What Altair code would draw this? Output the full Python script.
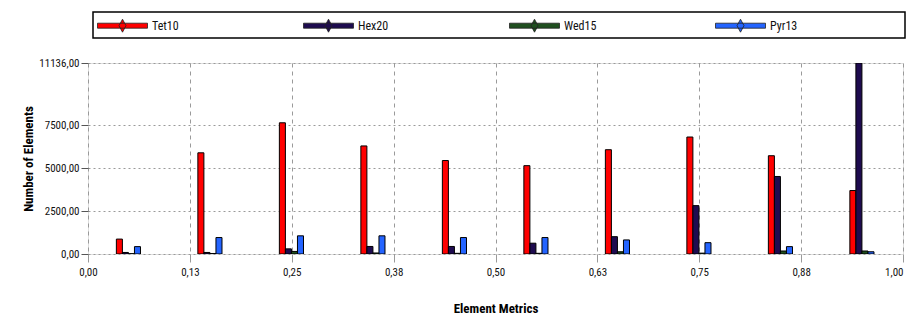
import altair as alt
import pandas as pd

bin_centers = [0.05, 0.15, 0.25, 0.35, 0.45, 0.55, 0.65, 0.75, 0.85, 0.95]
series = ["Tet10", "Hex20", "Wed15", "Pyr13"]
colors = ["#FF0000", "#1E0B4F", "#1F4F1F", "#2464FF"]
tet10 = [870, 5900, 7650, 6300, 5450, 5150, 6080, 6820, 5730, 3700]
hex20 = [90, 90, 300, 440, 440, 630, 1010, 2820, 4520, 11136]
wed15 = [20, 30, 150, 60, 40, 40, 130, 50, 175, 175]
pyr13 = [430, 960, 1060, 1060, 960, 960, 820, 660, 430, 130]
x_ticks = [0, 0.125, 0.25, 0.375, 0.5, 0.625, 0.75, 0.875, 1.0]
y_ticks = [0, 2500, 5000, 7500, 11136]

rows = []
for s_idx, (name, vals) in enumerate(zip(series, [tet10, hex20, wed15, pyr13])):
    for c, v in zip(bin_centers, vals):
        rows.append({"center": c, "series": name, "idx": s_idx, "count": v})
df = pd.DataFrame(rows)

FONT = "Liberation Sans Narrow, Roboto Condensed, Liberation Sans, sans-serif"
BW = 0.0074

legend_path = "M-1,-0.1H1V0.1H-1Z M0,-0.26L0.14,0L0,0.26L-0.14,0Z"

bars = alt.Chart(df).transform_calculate(
    x0=f"datum.center - 0.0152 + datum.idx * {BW}",
    x1=f"datum.center - 0.0152 + (datum.idx + 1) * {BW}",
    zero="0",
).mark_bar(stroke="black", strokeWidth=1, clip=True, orient="vertical").encode(
    x=alt.X("x0:Q", scale=alt.Scale(domain=[0, 1], nice=False, padding=0, zero=False),
            axis=alt.Axis(values=x_ticks, title="Element Metrics",
                          labelExpr="replace(format(datum.value, '.2f'), '.', ',')",
                          labelFlush=False,
                          labelAlign={"condition": {"test": "datum.value >= 1", "value": "right"},
                                      "value": "center"},
                          grid=True, gridDash=[4, 4], gridColor="#9a9a9a",
                          tickColor="#9a9a9a", tickSize=8, domain=False,
                          labelPadding=4, labelFontSize=11, labelFont=FONT,
                          titleFont=FONT, titleFontSize=13, titleFontWeight="bold",
                          titleY=54, titleBaseline="middle", labelColor="#111")),
    x2="x1:Q",
    y=alt.Y("count:Q", scale=alt.Scale(domain=[0, 11136], nice=False, padding=0),
            axis=alt.Axis(values=y_ticks, title="Number of Elements",
                          labelExpr="replace(format(datum.value, '.2f'), '.', ',')",
                          labelFlush=False,
                          grid=True, gridDash=[2, 3], gridColor="#9a9a9a",
                          tickColor="#555", tickSize=7, domain=False,
                          labelPadding=2, labelFontSize=11, labelFont=FONT,
                          titleFont=FONT, titleFontSize=13, titleFontWeight="bold",
                          titleX=-60, titleBaseline="middle", labelColor="#111")),
    y2="zero:Q",
    color=alt.Color("series:N", scale=alt.Scale(domain=series, range=colors),
                    sort=series,
                    legend=alt.Legend(title=None, orient="none", direction="horizontal",
                                      columns=4, legendX=9, legendY=-63, padding=0,
                                      symbolType=legend_path, symbolSize=2500,
                                      symbolStrokeColor="#222", symbolStrokeWidth=0.8,
                                      symbolOpacity=1, gridAlign="all",
                                      columnPadding=116, labelOffset=4,
                                      labelFont=FONT, labelFontSize=12, labelColor="#111")),
)

legend_box = alt.Chart(pd.DataFrame({"k": [0]})).mark_rect(
    fill="white", stroke="black", strokeWidth=1.5, clip=False
).encode(x=alt.value(5), x2=alt.value(817), y=alt.value(-51), y2=alt.value(-25))

chart = alt.layer(legend_box, bars).properties(
    width=815, height=191,
    autosize=alt.AutoSizeParams(type="none"),
    padding={"left": 80, "top": 55, "right": 4, "bottom": 60},
).configure_view(stroke="black", strokeWidth=1.5).configure(background="white")

chart.save("out.html", embed_options={"renderer": "svg", "actions": False})
